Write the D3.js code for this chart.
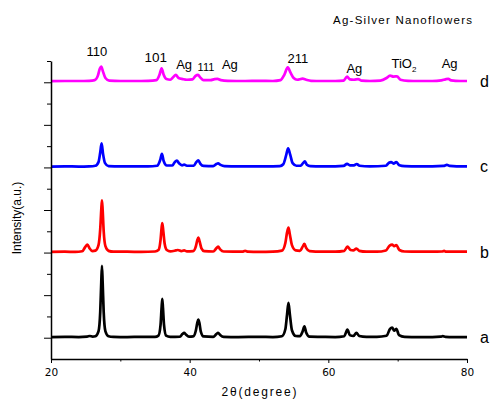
<!DOCTYPE html>
<html>
<head>
<meta charset="utf-8">
<script src="https://cdn.jsdelivr.net/npm/d3@7/dist/d3.min.js"></script>
<style>
  html, body { margin: 0; padding: 0; background: #fff; }
  svg { display: block; font-family: "Liberation Sans", Arial, sans-serif; }
</style>
</head>
<body>
<svg id="chart" width="491" height="400"></svg>
<script>
// ---------- data ----------
const sampleNames = ["a", "b", "c", "d"];
const sampleColors = ["#000000", "#ff0000", "#0000ff", "#ff00ff"];
const sampleOffsets = [1, 5, 9, 13];

const seriesA = [[20,0.03],[22,0.04],[24,0.03],[25.2,0.05],[25.6,0.08],[26.0,0.05],[26.4,0.07],[26.85,0.3],[27.1,1.2],[27.25,2.6],[27.35,3.38],[27.45,2.6],[27.6,1.2],[27.85,0.3],[28.3,0.07],[29,0.04],[31,0.03],[33,0.04],[35,0.04],[35.5,0.1],[35.8,0.6],[35.95,1.4],[36.05,1.83],[36.15,1.4],[36.3,0.6],[36.6,0.1],[37.2,0.04],[38.6,0.05],[38.95,0.17],[39.2,0.23],[39.45,0.15],[39.9,0.05],[40.5,0.06],[40.9,0.35],[41.1,0.7],[41.25,0.85],[41.4,0.7],[41.6,0.3],[42.0,0.06],[43.4,0.04],[43.85,0.17],[44.1,0.23],[44.4,0.13],[44.9,0.04],[47,0.03],[50,0.04],[52,0.03],[53.3,0.07],[53.8,0.4],[54.05,1.1],[54.25,1.64],[54.45,1.1],[54.75,0.35],[55.3,0.08],[55.9,0.07],[56.3,0.3],[56.55,0.53],[56.8,0.25],[57.3,0.05],[59,0.04],[61,0.03],[62.3,0.07],[62.75,0.38],[63.1,0.12],[63.6,0.08],[64.05,0.23],[64.45,0.08],[65.5,0.04],[67,0.04],[68.4,0.09],[68.9,0.42],[69.2,0.48],[69.5,0.33],[69.8,0.42],[70.2,0.12],[71,0.04],[73,0.03],[75,0.03],[76.2,0.05],[76.5,0.07],[76.9,0.04],[78,0.03],[80,0.03]];

const seriesB = [[20,0.03],[22,0.04],[23.5,0.03],[24.5,0.06],[24.95,0.27],[25.25,0.38],[25.55,0.2],[26.0,0.07],[26.4,0.09],[26.85,0.35],[27.1,1.1],[27.25,2.0],[27.35,2.45],[27.45,2.0],[27.6,1.0],[27.85,0.3],[28.3,0.08],[29,0.04],[31,0.04],[33,0.03],[35,0.05],[35.5,0.12],[35.8,0.6],[35.95,1.15],[36.05,1.39],[36.2,1.0],[36.4,0.4],[36.7,0.12],[37.2,0.06],[38.0,0.1],[38.3,0.12],[38.8,0.07],[39.2,0.1],[39.6,0.06],[40.5,0.07],[40.9,0.3],[41.1,0.58],[41.25,0.7],[41.45,0.5],[41.7,0.2],[42.1,0.07],[43.4,0.05],[43.85,0.2],[44.1,0.28],[44.4,0.15],[44.9,0.05],[47.6,0.04],[48.0,0.08],[48.4,0.04],[50,0.03],[52,0.04],[53.3,0.09],[53.8,0.45],[54.05,0.95],[54.25,1.17],[54.45,0.85],[54.75,0.35],[55.3,0.1],[55.9,0.08],[56.3,0.28],[56.55,0.41],[56.8,0.22],[57.3,0.07],[59,0.04],[61,0.04],[62.3,0.08],[62.75,0.28],[63.2,0.12],[63.6,0.1],[64.05,0.19],[64.45,0.08],[65.5,0.04],[67,0.04],[68.3,0.1],[68.85,0.33],[69.2,0.37],[69.5,0.3],[69.8,0.35],[70.25,0.12],[71,0.05],[73,0.04],[75,0.04],[76.4,0.05],[76.7,0.08],[77.0,0.04],[79,0.04],[80,0.04]];

const seriesC = [[20,0.04],[22,0.05],[24,0.04],[25.5,0.05],[26.4,0.08],[26.85,0.25],[27.1,0.7],[27.3,1.13],[27.5,0.65],[27.8,0.2],[28.3,0.06],[30,0.05],[32,0.05],[34,0.05],[35.3,0.08],[35.75,0.35],[36.0,0.64],[36.25,0.3],[36.7,0.09],[37.5,0.09],[37.85,0.25],[38.15,0.32],[38.5,0.18],[38.9,0.1],[39.2,0.13],[39.6,0.08],[40.6,0.08],[40.95,0.25],[41.25,0.33],[41.55,0.17],[42.0,0.07],[43.4,0.06],[43.85,0.16],[44.1,0.19],[44.45,0.12],[45.0,0.06],[47,0.05],[49,0.05],[51,0.05],[53.0,0.06],[53.5,0.15],[53.9,0.55],[54.2,0.9],[54.5,0.6],[54.85,0.2],[55.4,0.08],[56.0,0.08],[56.35,0.2],[56.6,0.28],[56.9,0.13],[57.4,0.06],[59,0.05],[61,0.05],[62.2,0.07],[62.7,0.17],[63.1,0.1],[63.7,0.1],[64.1,0.16],[64.5,0.08],[66,0.05],[68.3,0.08],[68.75,0.22],[69.05,0.25],[69.4,0.18],[69.8,0.25],[70.25,0.1],[71,0.06],[73,0.05],[75,0.05],[76.6,0.07],[77.1,0.12],[77.5,0.07],[78.5,0.05],[80,0.05]];

const seriesD = [[20,0.05],[22,0.06],[24,0.06],[25.5,0.07],[26.3,0.1],[26.75,0.3],[27.05,0.65],[27.25,0.74],[27.5,0.5],[27.85,0.2],[28.4,0.08],[30,0.06],[32,0.06],[34,0.07],[35.2,0.1],[35.65,0.35],[35.95,0.66],[36.25,0.35],[36.65,0.15],[37.2,0.12],[37.65,0.25],[38.0,0.35],[38.4,0.2],[39.0,0.15],[39.6,0.12],[40.4,0.14],[40.85,0.3],[41.2,0.35],[41.55,0.22],[42.0,0.1],[43.0,0.1],[43.6,0.15],[44.0,0.16],[44.5,0.1],[45.5,0.07],[48,0.06],[50,0.07],[52,0.06],[53.1,0.1],[53.65,0.35],[54.15,0.7],[54.55,0.45],[55.0,0.2],[55.5,0.12],[56.3,0.17],[56.8,0.12],[57.5,0.07],[59,0.06],[61,0.06],[62.2,0.08],[62.7,0.27],[63.1,0.14],[63.7,0.12],[64.3,0.15],[64.8,0.08],[66,0.06],[67.5,0.08],[68.4,0.2],[68.9,0.31],[69.4,0.27],[69.9,0.28],[70.4,0.12],[71.5,0.07],[73,0.06],[75,0.06],[76.3,0.09],[76.9,0.14],[77.3,0.16],[77.7,0.09],[79,0.06],[80,0.06]];

const allSeries = [seriesA, seriesB, seriesC, seriesD];

// peak annotations
const peakLabelText = ["110", "101", "Ag", "111", "Ag", "211", "Ag", "TiO", "Ag"];
const peakLabelSub  = ["", "", "", "", "", "", "", "2", ""];
const peakLabelX    = [26.6, 35.1, 39.2, 42.35, 45.8, 55.6, 63.75, 70.9, 77.5];
const peakLabelY    = [14.23, 13.95, 13.61, 13.54, 13.61, 13.92, 13.45, 13.66, 13.66];
const peakLabelSize = [13, 13.5, 13, 11, 13, 13, 13, 13, 13];

const xTicksMajor = [20, 40, 60, 80];
const xTicksMinor = [30, 50, 70];
const yTicksMajor = [1, 3, 5, 7, 9, 11, 13];
const yTicksMinor = [2, 4, 6, 8, 10, 12, 14];

const chartTitle = "Ag-Silver Nanoflowers";
const xTitle = "2θ(degree)";
const yTitle = "Intensity(a.u.)";

// ---------- drawing ----------
const svg = d3.select("#chart");
const x = d3.scaleLinear().domain([20, 80]).range([51, 467]);
const y = d3.scaleLinear().domain([0, 14]).range([359, 61]);

allSeries.forEach((s, i) => {
  const line = d3.line()
    .x(d => x(d[0]))
    .y(d => y(d[1] + sampleOffsets[i]))
    .curve(d3.curveMonotoneX);
  svg.append("path")
    .datum(s)
    .attr("d", line)
    .attr("fill", "none")
    .attr("stroke", sampleColors[i])
    .attr("stroke-width", 2.7)
    .attr("stroke-linejoin", "round");
});

// x axis
const xAxis = svg.append("g").attr("transform", `translate(0,${y(0)})`)
  .call(d3.axisBottom(x).tickValues(xTicksMajor).tickSize(4).tickSizeOuter(0).tickPadding(6).tickFormat(d3.format("d")));
xAxis.select(".domain").attr("stroke-width", 1.5);
xAxis.selectAll(".tick text").attr("font-size", 10.5).attr("font-family", "DejaVu Sans, sans-serif").attr("fill", "#000");
svg.append("g").attr("transform", `translate(0,${y(0)})`)
  .call(d3.axisBottom(x).tickValues(xTicksMinor).tickSize(2.5).tickFormat(""))
  .select(".domain").remove();

// y axis
const yAxis = svg.append("g").attr("transform", `translate(${x(20)},0)`)
  .call(d3.axisLeft(y).tickValues(yTicksMajor).tickSize(7).tickSizeOuter(0).tickFormat(""));
yAxis.select(".domain").attr("stroke-width", 1.5);
svg.append("g").attr("transform", `translate(${x(20)},0)`)
  .call(d3.axisLeft(y).tickValues(yTicksMinor).tickSize(4).tickFormat(""))
  .select(".domain").remove();

// sample letters
sampleNames.forEach((n, i) => {
  svg.append("text")
    .attr("x", 480)
    .attr("y", y(sampleOffsets[i]) + 5)
    .attr("font-size", 16)
    .attr("fill", "#000")
    .text(n);
});

// peak labels
peakLabelText.forEach((t, i) => {
  const txt = svg.append("text")
    .attr("x", x(peakLabelX[i]))
    .attr("y", y(peakLabelY[i]))
    .attr("text-anchor", "middle")
    .attr("font-size", peakLabelSize[i])
    .attr("fill", "#000");
  txt.append("tspan").text(t);
  if (peakLabelSub[i]) {
    txt.append("tspan").attr("font-size", 8).attr("dy", 4).text(peakLabelSub[i]);
  }
});

// title
svg.append("text")
  .attr("x", 333).attr("y", 24)
  .attr("font-size", 11.5)
  .attr("textLength", 139).attr("lengthAdjust", "spacing")
  .attr("fill", "#000")
  .text(chartTitle);

// axis titles
svg.append("text")
  .attr("x", 259).attr("y", 396)
  .attr("text-anchor", "middle")
  .attr("font-size", 12)
  .attr("textLength", 75).attr("lengthAdjust", "spacing")
  .attr("fill", "#000")
  .text(xTitle);

svg.append("text")
  .attr("transform", `translate(21,218) rotate(-90)`)
  .attr("text-anchor", "middle")
  .attr("font-size", 12)
  .attr("fill", "#000")
  .text(yTitle);
</script>
</body>
</html>
